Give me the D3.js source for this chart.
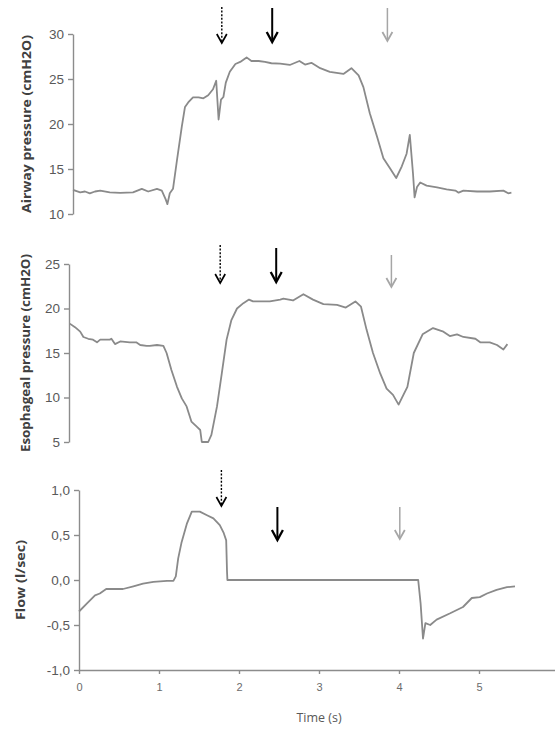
<!DOCTYPE html>
<html>
<head>
<meta charset="utf-8">
<script src="https://cdn.jsdelivr.net/npm/d3@7"></script>
<style>
  body { margin: 0; background: #fff; }
  svg { display: block; font-family: "Open Sans", sans-serif; }
</style>
</head>
<body>
<div id="chart"></div>
<script>
// time (s), value pairs
var airwayData = [
  [0.00, 12.67], [0.09, 12.4], [0.15, 12.5], [0.21, 12.3], [0.275, 12.5], [0.34, 12.6],
  [0.46, 12.4], [0.59, 12.35], [0.75, 12.4], [0.86, 12.8], [0.94, 12.5], [1.05, 12.8],
  [1.11, 12.6], [1.16, 11.6], [1.18, 11.1], [1.21, 12.3], [1.25, 12.8], [1.30, 16.0],
  [1.36, 19.7], [1.40, 21.9], [1.44, 22.4], [1.50, 22.96], [1.57, 22.96], [1.63, 22.85],
  [1.69, 23.2], [1.75, 23.86], [1.79, 24.8], [1.82, 20.5], [1.85, 22.7], [1.88, 23.0],
  [1.91, 24.6], [1.96, 25.8], [2.03, 26.67], [2.09, 26.9], [2.17, 27.4], [2.23, 27.0],
  [2.32, 27.0], [2.40, 26.9], [2.48, 26.75], [2.59, 26.7], [2.71, 26.56], [2.83, 27.0],
  [2.90, 26.6], [2.98, 26.8], [3.09, 26.2], [3.21, 25.8], [3.38, 25.56], [3.48, 26.2],
  [3.57, 25.4], [3.63, 24.1], [3.71, 21.2], [3.80, 18.6], [3.88, 16.2], [3.96, 15.1],
  [4.04, 14.0], [4.11, 15.3], [4.17, 16.7], [4.21, 18.8], [4.25, 14.5], [4.27, 11.85],
  [4.30, 13.0], [4.34, 13.5], [4.42, 13.15], [4.55, 12.96], [4.67, 12.74], [4.78, 12.6],
  [4.82, 12.37], [4.88, 12.6], [5.05, 12.5], [5.21, 12.5], [5.38, 12.6], [5.44, 12.3],
  [5.48, 12.37]
];

var esophagealData = [
  [0.01, 18.3], [0.075, 17.9], [0.14, 17.4], [0.18, 16.8], [0.24, 16.6], [0.30, 16.5],
  [0.35, 16.2], [0.39, 16.5], [0.51, 16.5], [0.53, 16.6], [0.575, 16.0], [0.64, 16.3],
  [0.76, 16.2], [0.84, 16.2], [0.89, 15.9], [0.97, 15.8], [1.01, 15.8], [1.10, 15.9],
  [1.18, 15.8], [1.22, 15.0], [1.28, 13.1], [1.35, 11.2], [1.41, 9.9], [1.47, 9.0],
  [1.53, 7.3], [1.60, 6.7], [1.64, 6.35], [1.66, 5.0], [1.74, 5.0], [1.78, 5.8],
  [1.85, 9.0], [1.91, 12.7], [1.97, 16.5], [2.03, 18.7], [2.10, 20.0], [2.18, 20.6],
  [2.25, 21.0], [2.30, 20.8], [2.39, 20.8], [2.51, 20.8], [2.64, 21.0], [2.68, 21.1],
  [2.80, 20.9], [2.93, 21.6], [3.05, 21.0], [3.18, 20.5], [3.35, 20.4], [3.46, 20.1],
  [3.58, 20.8], [3.65, 20.2], [3.72, 17.6], [3.80, 15.0], [3.89, 12.7], [3.97, 11.0],
  [4.05, 10.3], [4.12, 9.2], [4.18, 10.3], [4.23, 11.2], [4.31, 15.0], [4.42, 17.1],
  [4.55, 17.8], [4.68, 17.4], [4.76, 16.9], [4.85, 17.1], [4.93, 16.8], [5.08, 16.6],
  [5.14, 16.2], [5.26, 16.2], [5.35, 15.9], [5.43, 15.4], [5.48, 16.0]
];

var flowData = [
  [0.00, -0.35], [0.10, -0.26], [0.20, -0.17], [0.26, -0.15], [0.34, -0.10], [0.43, -0.10],
  [0.55, -0.10], [0.68, -0.07], [0.80, -0.04], [0.93, -0.02], [1.10, -0.01], [1.18, -0.01],
  [1.21, 0.04], [1.24, 0.24], [1.28, 0.41], [1.35, 0.63], [1.41, 0.76], [1.51, 0.76],
  [1.60, 0.72], [1.68, 0.685], [1.76, 0.61], [1.81, 0.52], [1.84, 0.44], [1.85, 0.10],
  [1.855, 0.0], [4.24, 0.0], [4.27, -0.26], [4.30, -0.65], [4.33, -0.48], [4.39, -0.50],
  [4.47, -0.44], [4.64, -0.37], [4.80, -0.30], [4.91, -0.20], [5.01, -0.19], [5.10, -0.15],
  [5.22, -0.11], [5.35, -0.08], [5.45, -0.07]
];

// arrow times: dotted, black, grey
var airwayArrows = [1.86, 2.49, 3.93];
var esophagealArrows = [1.89, 2.59, 4.03];
var flowArrows = [1.78, 2.48, 4.01];

var airwayTicks = [10, 15, 20, 25, 30];
var esophagealTicks = [5, 10, 15, 20, 25];
var flowTicks = [-1, -0.5, 0, 0.5, 1];
var timeTicks = [0, 1, 2, 3, 4, 5];

var width = 555, height = 729;
var pxPerSec = 80;

var arrowStyles = [
  { stroke: "#000", width: 1.4, dash: "2,1.6", headW: 5, headH: 9 },
  { stroke: "#000", width: 2, dash: null, headW: 5.5, headH: 10 },
  { stroke: "#a6a6a6", width: 1.5, dash: null, headW: 5, headH: 9 }
];

var panels = [
  { data: airwayData, ticks: airwayTicks, domain: [10, 30], yRange: [214, 34], x0: 73,
    title: "Airway pressure (cmH2O)", titleX: 26, titleLen: 178, fmt: d3.format("d"),
    arrows: airwayArrows, arrowY: [[7, 43], [8, 42], [8, 41]] },
  { data: esophagealData, ticks: esophagealTicks, domain: [5, 25], yRange: [442, 264], x0: 69,
    title: "Esophageal pressure (cmH2O)", titleX: 25, titleLen: 198, fmt: d3.format("d"),
    arrows: esophagealArrows, arrowY: [[245, 283], [248, 282], [255, 287]] },
  { data: flowData, ticks: flowTicks, domain: [-1, 1], yRange: [670, 490], x0: 79,
    title: "Flow (l/sec)", titleX: 20, titleLen: 80, fmt: d => d3.format(".1f")(d).replace(".", ",").replace("−", "-"),
    arrows: flowArrows, arrowY: [[470, 506], [507, 540], [507, 539]], xAxis: true }
];

var svg = d3.select("#chart").append("svg")
  .attr("width", width)
  .attr("height", height);

panels.forEach(function (p) {
  var x = d3.scaleLinear().domain([0, 6]).range([p.x0, p.x0 + 6 * pxPerSec]);
  var y = d3.scaleLinear().domain(p.domain).range(p.yRange);

  var g = svg.append("g");

  var yAxis = g.append("g")
    .attr("transform", `translate(${p.x0},0)`)
    .call(d3.axisLeft(y).tickValues(p.ticks).tickSize(5).tickSizeOuter(0).tickFormat(p.fmt));

  if (p.xAxis) {
    g.append("g")
      .attr("transform", `translate(0,${p.yRange[0]})`)
      .call(d3.axisBottom(x).tickValues(timeTicks).tickSize(4).tickSizeOuter(0).tickFormat(d3.format("d")))
      .call(a => a.selectAll("text").attr("dy", "1.25em").attr("font-size", 11).attr("fill", "#6b6b6b"));

    svg.append("text")
      .attr("x", x(3))
      .attr("y", 722)
      .attr("text-anchor", "middle")
      .attr("font-size", 12.5)
      .attr("fill", "#595959")
      .text("Time (s)");
  }

  yAxis.selectAll("text")
    .attr("font-size", 13.5)
    .attr("fill", "#595959")
    .attr("x", -9);

  svg.selectAll(".domain").attr("stroke", "#8c8c8c").attr("stroke-width", 1.4);
  svg.selectAll(".tick line").attr("stroke", "#8c8c8c").attr("stroke-width", 1.4);

  var midY = (p.yRange[0] + p.yRange[1]) / 2;
  svg.append("text")
    .attr("transform", `translate(${p.titleX},${midY}) rotate(-90)`)
    .attr("text-anchor", "middle")
    .attr("dy", "0.35em")
    .attr("font-size", 13)
    .attr("font-weight", "bold")
    .attr("fill", "#404040")
    .attr("textLength", p.titleLen)
    .attr("lengthAdjust", "spacingAndGlyphs")
    .text(p.title);

  var line = d3.line()
    .x(d => x(d[0]))
    .y(d => y(d[1]));

  g.append("path")
    .datum(p.data)
    .attr("fill", "none")
    .attr("stroke", "#8a8a8a")
    .attr("stroke-width", 1.8)
    .attr("stroke-linejoin", "round")
    .attr("d", line);

  // arrows
  p.arrows.forEach(function (t, i) {
    var s = arrowStyles[i];
    var ax = x(t), y0 = p.arrowY[i][0], y1 = p.arrowY[i][1];
    g.append("line")
      .attr("x1", ax).attr("x2", ax)
      .attr("y1", y0).attr("y2", y1 - 1)
      .attr("stroke", s.stroke)
      .attr("stroke-width", s.width)
      .attr("stroke-dasharray", s.dash);
    g.append("path")
      .attr("d", `M${ax - s.headW},${y1 - s.headH}L${ax},${y1}L${ax + s.headW},${y1 - s.headH}`)
      .attr("fill", "none")
      .attr("stroke", s.stroke)
      .attr("stroke-width", s.width + 0.3);
  });
});
</script>
</body>
</html>
